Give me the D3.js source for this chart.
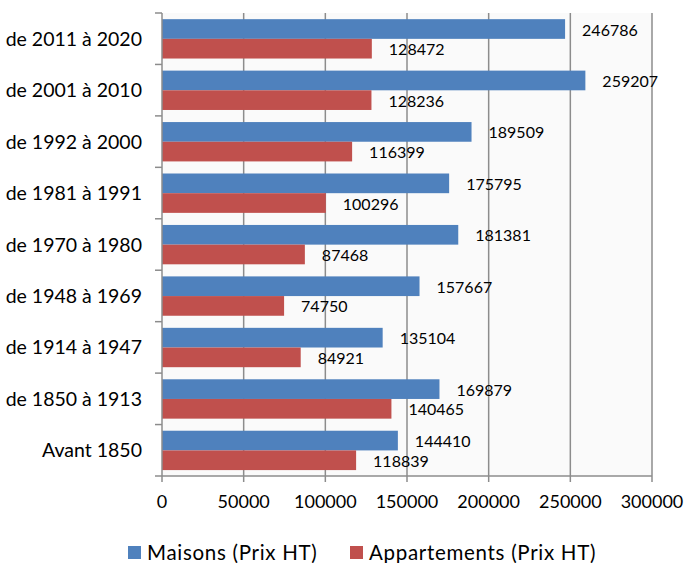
<!DOCTYPE html>
<html>
<head>
<meta charset="utf-8">
<script src="https://cdn.jsdelivr.net/npm/d3@7"></script>
<style>
  html, body { margin: 0; padding: 0; background: #ffffff; }
  svg { display: block; font-family: Lato, "Open Sans", sans-serif; }
</style>
</head>
<body>
<svg id="chart" width="685" height="563"></svg>
<script>
// Construction periods, top to bottom
const periods = [
  "de 2011 à 2020", "de 2001 à 2010", "de 1992 à 2000", "de 1981 à 1991",
  "de 1970 à 1980", "de 1948 à 1969", "de 1914 à 1947", "de 1850 à 1913",
  "Avant 1850"
];
// Average prices (HT) for each period
const maisons = [246786, 259207, 189509, 175795, 181381, 157667, 135104, 169879, 144410];
const appartements = [128472, 128236, 116399, 100296, 87468, 74750, 84921, 140465, 118839];
const seriesNames = ["Maisons (Prix HT)", "Appartements (Prix HT)"];
const seriesColors = ["#4F81BD", "#C0504D"];
const xTicks = [0, 50000, 100000, 150000, 200000, 250000, 300000];

const svg = d3.select("#chart");
const plotLeft = 162, plotRight = 652, plotTop = 13, plotBottom = 476;

const x = d3.scaleLinear().domain([0, 300000]).range([plotLeft, plotRight]);
const y = d3.scaleBand().domain(periods).range([plotTop, plotBottom]).padding(0);
const bw = y.bandwidth();
const inner = d3.scaleBand().domain(seriesNames).range([bw * 0.12, bw * 0.885]).padding(0);

// Plot background
svg.append("rect")
  .attr("x", plotLeft).attr("y", plotTop)
  .attr("width", plotRight - plotLeft).attr("height", plotBottom - plotTop)
  .attr("fill", "#fafafa");

// Vertical gridlines
svg.append("g").selectAll("line")
  .data(xTicks.slice(1))
  .join("line")
  .attr("x1", d => x(d)).attr("x2", d => x(d))
  .attr("y1", plotTop).attr("y2", plotBottom)
  .attr("stroke", "#8c8c8c").attr("stroke-width", 1.5);

// Bars
const rows = periods.map((p, i) => ({ period: p, values: [maisons[i], appartements[i]] }));
const groups = svg.append("g").selectAll("g")
  .data(rows)
  .join("g")
  .attr("transform", d => `translate(0,${y(d.period)})`);

groups.selectAll("rect")
  .data(d => d.values.map((v, j) => ({ v, j })))
  .join("rect")
  .attr("x", x(0))
  .attr("y", d => inner(seriesNames[d.j]))
  .attr("width", d => x(d.v) - x(0))
  .attr("height", inner.bandwidth())
  .attr("fill", d => seriesColors[d.j]);

// Value labels
groups.selectAll("text")
  .data(d => d.values.map((v, j) => ({ v, j })))
  .join("text")
  .attr("x", d => x(d.v) + 17)
  .attr("y", d => inner(seriesNames[d.j]) + inner.bandwidth() / 2 + 0.8)
  .attr("dy", "0.36em")
  .attr("font-size", 16)
  .attr("fill", "#000")
  .text(d => d.v);

// Left axis (category axis)
const yAxis = svg.append("g");
yAxis.append("line")
  .attr("x1", plotLeft).attr("x2", plotLeft)
  .attr("y1", plotTop).attr("y2", plotBottom)
  .attr("stroke", "#8c8c8c").attr("stroke-width", 1.5);
yAxis.selectAll("line.tick")
  .data(periods.map(p => y(p)).concat([plotBottom]))
  .join("line")
  .attr("class", "tick")
  .attr("x1", plotLeft - 7).attr("x2", plotLeft)
  .attr("y1", d => d).attr("y2", d => d)
  .attr("stroke", "#8c8c8c").attr("stroke-width", 1.5);
yAxis.selectAll("text")
  .data(periods)
  .join("text")
  .attr("x", 142)
  .attr("y", d => y(d) + bw / 2)
  .attr("dy", "0.36em")
  .attr("text-anchor", "end")
  .attr("font-size", 19.5)
  .attr("fill", "#000")
  .text(d => d);

// Bottom axis (value axis)
const xAxis = svg.append("g");
xAxis.append("line")
  .attr("x1", plotLeft).attr("x2", plotRight)
  .attr("y1", plotBottom).attr("y2", plotBottom)
  .attr("stroke", "#8c8c8c").attr("stroke-width", 1.5);
xAxis.selectAll("line.tick")
  .data(xTicks)
  .join("line")
  .attr("class", "tick")
  .attr("x1", d => x(d)).attr("x2", d => x(d))
  .attr("y1", plotBottom).attr("y2", plotBottom + 6)
  .attr("stroke", "#8c8c8c").attr("stroke-width", 1.5);
xAxis.selectAll("text")
  .data(xTicks)
  .join("text")
  .attr("x", d => x(d))
  .attr("y", 502)
  .attr("dy", "0.36em")
  .attr("text-anchor", "middle")
  .attr("font-size", 18)
  .attr("fill", "#000")
  .text(d => d);

// Legend
const legendItems = [
  { name: seriesNames[0], color: seriesColors[0], x: 128 },
  { name: seriesNames[1], color: seriesColors[1], x: 350 }
];
const legend = svg.append("g").selectAll("g")
  .data(legendItems)
  .join("g")
  .attr("transform", d => `translate(${d.x},546)`);
legend.append("rect")
  .attr("width", 13).attr("height", 13)
  .attr("fill", d => d.color);
legend.append("text")
  .attr("x", 19).attr("y", 6.5)
  .attr("dy", "0.36em")
  .attr("font-size", 20.5)
  .attr("letter-spacing", 0.7)
  .attr("fill", "#000")
  .text(d => d.name);
</script>
</body>
</html>
